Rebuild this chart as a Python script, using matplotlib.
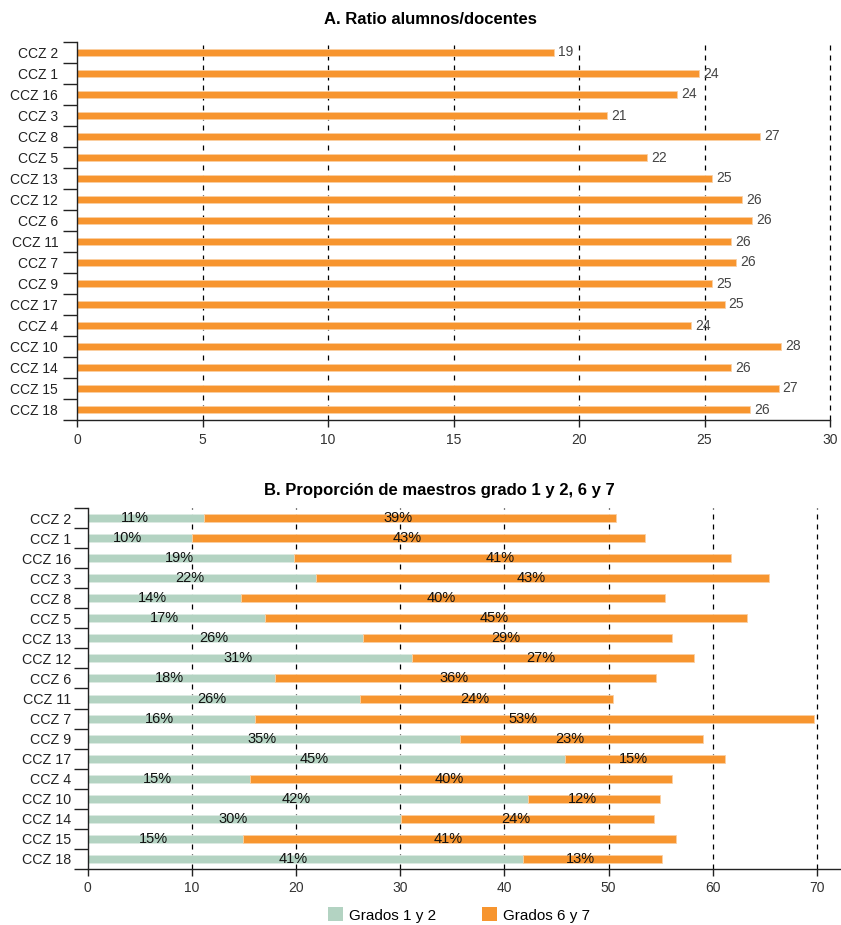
import matplotlib
matplotlib.use("Agg")
import matplotlib.pyplot as plt
from matplotlib.patches import Patch

plt.rcParams['font.family'] = ['Liberation Sans', 'DejaVu Sans']

###############################
### data

ccz = ["CCZ 2", "CCZ 1", "CCZ 16", "CCZ 3", "CCZ 8", "CCZ 5", "CCZ 13", "CCZ 12", "CCZ 6",
       "CCZ 11", "CCZ 7", "CCZ 9", "CCZ 17", "CCZ 4", "CCZ 10", "CCZ 14", "CCZ 15", "CCZ 18"]

ratio = [19.0, 24.8, 23.9, 21.1, 27.2, 22.7, 25.3, 26.5, 26.9,
         26.05, 26.25, 25.3, 25.8, 24.45, 28.05, 26.05, 27.95, 26.8]
ratio_labels = ["19", "24", "24", "21", "27", "22", "25", "26", "26",
                "26", "26", "25", "25", "24", "28", "26", "27", "26"]

g12 = [11.2, 10.0, 19.8, 21.9, 14.7, 17.0, 26.4, 31.1, 18.0,
       26.1, 16.1, 35.7, 45.8, 15.6, 42.3, 30.1, 14.9, 41.8]
g67 = [39.5, 43.5, 41.9, 43.5, 40.7, 46.3, 29.7, 27.1, 36.5,
       24.3, 53.6, 23.4, 15.4, 40.5, 12.6, 24.3, 41.6, 13.3]
g12_labels = ["11%", "10%", "19%", "22%", "14%", "17%", "26%", "31%", "18%",
              "26%", "16%", "35%", "45%", "15%", "42%", "30%", "15%", "41%"]
g67_labels = ["39%", "43%", "41%", "43%", "40%", "45%", "29%", "27%", "36%",
              "24%", "53%", "23%", "15%", "40%", "12%", "24%", "41%", "13%"]

ORANGE = '#F7952F'
GREEN = '#B3D3C2'
EDGE_O = '#FBD0A2'
EDGE_G = '#DDEBE3'

W, H = 841, 925
fig = plt.figure(figsize=(W / 100, H / 100), dpi=100)

def px_axes(l, r, t, b):
    return fig.add_axes([l / W, 1 - b / H, (r - l) / W, (b - t) / H])

def style(ax, n, xticks, pad, size):
    ax.set_ylim(n - 0.5, -0.5)
    ax.spines['top'].set_visible(False)
    ax.spines['right'].set_visible(False)
    for s in ['left', 'bottom']:
        ax.spines[s].set_color('#222222')
        ax.spines[s].set_linewidth(1.0)
    ax.set_yticks([i - 0.5 for i in range(n + 1)])
    ax.set_yticklabels([])
    ax.set_yticks(range(n), minor=True)
    ax.set_yticklabels(ccz, minor=True)
    ax.tick_params(axis='y', which='major', length=10, width=1, color='#222222')
    ax.tick_params(axis='y', which='minor', length=0, pad=pad, labelsize=size, labelcolor='#222222')
    ax.set_xticks(xticks)
    ax.tick_params(axis='x', length=5, width=1, color='#222222', labelsize=10,
                   labelcolor='#333333', pad=4)
    for x in xticks[1:]:
        ax.axvline(x, color='black', lw=0.9, ls=(0, (4, 4)), zorder=0, clip_on=False)

###############################
### A. ratio

pos = list(range(len(ccz)))

axA = px_axes(77, 830, 42, 420)
axA.barh(pos, ratio, height=0.36, color=ORANGE, edgecolor=EDGE_O, linewidth=0.6, zorder=2)
for p, v, lab in zip(pos, ratio, ratio_labels):
    axA.annotate(lab, (v, p), xytext=(3, 0), textcoords='offset points',
                 ha='left', va='center', fontsize=10, color='#444444', zorder=3)
axA.set_xlim(0, 30)
style(axA, len(ccz), [0, 5, 10, 15, 20, 25, 30], pad=13.5, size=10)
fig.text(430 / W, 1 - 20 / H, "A. Ratio alumnos/docentes", ha='center', va='center',
         fontsize=12, fontweight='bold')

###############################
### B. proporcion

axB = px_axes(87.7, 841, 508, 869)
axB.barh(pos, g12, height=0.4, color=GREEN, edgecolor=EDGE_G, linewidth=0.6, zorder=2)
axB.barh(pos, g67, left=g12, height=0.4, color=ORANGE, edgecolor=EDGE_O, linewidth=0.6, zorder=2)
for p, a, b, la, lb in zip(pos, g12, g67, g12_labels, g67_labels):
    axB.annotate(la, (a / 2, p), xytext=(2, 0), textcoords='offset points',
                 ha='right', va='center', fontsize=10.5, color='#111111', zorder=3)
    axB.annotate(lb, (a + b / 2, p), xytext=(2, 0), textcoords='offset points',
                 ha='right', va='center', fontsize=10.5, color='#111111', zorder=3)
axB.set_xlim(0, 72.3)
style(axB, len(ccz), [0, 10, 20, 30, 40, 50, 60, 70], pad=12, size=10.3)
fig.text(439.5 / W, 1 - 491 / H, "B. Proporción de maestros grado 1 y 2, 6 y 7",
         ha='center', va='center', fontsize=12, fontweight='bold')

handles = [Patch(facecolor=GREEN, edgecolor='none', label='Grados 1 y 2'),
           Patch(facecolor=ORANGE, edgecolor='none', label='Grados 6 y 7')]
fig.legend(handles=handles, loc='center', bbox_to_anchor=(459 / W, 1 - 915 / H), ncol=2,
           frameon=False, fontsize=11, handlelength=1.0, handleheight=1.0,
           handletextpad=0.4, columnspacing=3.0)

fig.savefig('out.png', dpi=100)
